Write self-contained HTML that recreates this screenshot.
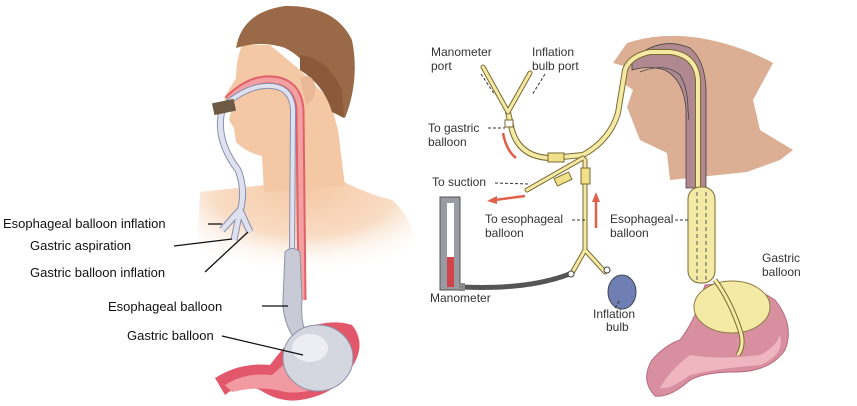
<!DOCTYPE html>
<html><head><meta charset="utf-8"><style>
html,body{margin:0;padding:0;background:#fff;}
svg{display:block;font-family:"Liberation Sans",sans-serif;}
</style></head><body>
<svg width="857" height="406" viewBox="0 0 857 406" xmlns="http://www.w3.org/2000/svg">
<defs>
<radialGradient id="body" cx="0.5" cy="0.1" r="0.75">
<stop offset="0" stop-color="#f6c9a6"/><stop offset="0.55" stop-color="#f9dcc4"/><stop offset="1" stop-color="#fff" stop-opacity="0"/>
</radialGradient>
</defs>
<!-- LEFT shoulders -->
<path d="M200,192 L265,185 L340,180 Q370,195 392,200 Q410,215 415,240 L410,290 L195,290 Z" fill="url(#body)"/>
<!-- neck/face -->
<path d="M242,45 Q236,60 236,78 L224,98 L232,108 L229,120 L234,128 L236,142 Q245,152 262,156 L264,192 L345,186 L338,130 L330,100 L300,70 L270,45 Z" fill="#f4c8a4"/>
<!-- hair -->
<path d="M236,48 Q242,12 285,6 Q335,5 352,40 Q360,80 345,118 L335,112 Q332,90 318,78 Q300,55 285,48 Q262,40 236,48 Z" fill="#9a6a48"/>
<path d="M300,55 Q328,58 342,90 L344,118 L332,112 Q324,85 300,70 Z" fill="#8a5a3a"/>
<!-- ear -->
<path d="M300,78 Q312,72 315,85 Q316,100 306,105 Z" fill="#eab896"/>
<!-- red lining -->
<path d="M228,100 Q250,78 272,80 Q298,82 300,110 L302,300" fill="none" stroke="#e0606a" stroke-width="9"/>
<path d="M228,100 Q250,78 272,80 Q298,82 300,110 L302,300" fill="none" stroke="#f2a0a0" stroke-width="5"/>
<!-- tube internal -->
<path d="M226,104 Q250,84 272,86 Q292,88 293,110 L292,255" fill="none" stroke="#8890b0" stroke-width="6"/>
<path d="M226,104 Q250,84 272,86 Q292,88 293,110 L292,255" fill="none" stroke="#dfe2ee" stroke-width="4"/>
<!-- stomach -->
<path d="M215,378 Q240,362 270,365 Q285,345 300,330 Q330,318 352,325 Q368,345 350,370 Q335,395 300,400 Q280,403 260,390 Q240,382 225,395 Z" fill="#e2576a"/>
<path d="M225,385 Q245,372 272,375 Q290,360 305,340 Q330,330 345,338 Q355,360 335,380 Q310,395 285,392 Q260,385 232,392 Z" fill="#f29aa2"/>
<!-- esophageal balloon -->
<path d="M285,252 Q292,245 300,252 L302,300 Q300,330 310,335 L295,340 Q282,320 283,300 Z" fill="#c8cad6" stroke="#8e92a8"/>
<ellipse cx="318" cy="358" rx="35" ry="33" fill="#d4d6e0" stroke="#8e92a8"/>
<ellipse cx="310" cy="348" rx="18" ry="14" fill="#eceef4"/>
<!-- external tube -->
<path d="M222,110 Q215,140 238,170 Q246,190 240,212" fill="none" stroke="#8890b0" stroke-width="7"/>
<path d="M222,110 Q215,140 238,170 Q246,190 240,212" fill="none" stroke="#dfe2ee" stroke-width="5"/>
<path d="M240,210 L222,230 M240,210 L234,240 M240,210 L250,232" stroke="#8890b0" stroke-width="7" fill="none"/>
<path d="M240,210 L222,230 M240,210 L234,240 M240,210 L250,232" stroke="#dfe2ee" stroke-width="5" fill="none"/>
<rect x="213" y="101" width="22" height="12" fill="#6e5a44" transform="rotate(-12 224 107)"/>
<!-- left labels -->
<g font-size="13" fill="#111">
<text x="3" y="228">Esophageal balloon inflation</text>
<text x="30" y="250">Gastric aspiration</text>
<text x="30" y="277">Gastric balloon inflation</text>
<text x="108" y="311">Esophageal balloon</text>
<text x="127" y="340">Gastric balloon</text>
</g>
<g stroke="#111" stroke-width="1.3">
<line x1="208" y1="224" x2="222" y2="224"/>
<line x1="174" y1="246" x2="232" y2="239"/>
<line x1="205" y1="272" x2="248" y2="232"/>
<line x1="262" y1="306" x2="288" y2="306"/>
<line x1="222" y1="336" x2="303" y2="355"/>
</g>

<!-- RIGHT head -->
<path d="M627,43 Q660,32 700,38 Q740,45 773,63 L753,100 L760,130 L793,150 L780,160 L747,172 L670,180 L667,153 L640,140 L627,107 L633,90 L623,83 L627,67 L613,63 Z" fill="#dcae94"/>
<path d="M632,60 Q660,35 690,48 Q705,60 706,90 L706,188 L686,188 L686,110 Q684,80 665,70 Q648,65 632,70 Z" fill="#b08890" stroke="#444" stroke-width="0.8"/>
<path d="M640,72 Q665,62 680,75 Q688,88 688,110 L689,120" fill="none" stroke="#444" stroke-width="0.8"/>
<!-- stomach -->
<path d="M705,285 Q745,280 775,300 Q795,325 785,350 Q770,372 735,372 Q705,372 690,380 Q670,398 655,396 Q640,380 652,360 Q665,345 680,340 Q695,320 700,300 Z" fill="#d890a0" stroke="#b86a80"/>
<path d="M690,355 Q720,360 760,355 Q775,348 780,335 Q785,355 760,365 Q720,368 690,375 Q670,390 660,388 Q670,370 690,355 Z" fill="#f0b6c0"/>
<ellipse cx="732" cy="307" rx="38" ry="26" fill="#f5eaa5" stroke="#8a7a40"/>
<!-- yellow tubes -->
<g fill="none" stroke-linecap="round">
<path d="M698,190 L698,80 Q696,55 670,52 L650,52 Q630,56 625,70 L618,113 Q610,140 583,155 L552,158 Q520,158 512,130 L508,112" stroke="#7a6a30" stroke-width="6"/>
<path d="M698,190 L698,80 Q696,55 670,52 L650,52 Q630,56 625,70 L618,113 Q610,140 583,155 L552,158 Q520,158 512,130 L508,112" stroke="#f5eaa5" stroke-width="4"/>
<path d="M508,112 L483,67 M508,112 L530,73" stroke="#7a6a30" stroke-width="5"/>
<path d="M508,112 L483,67 M508,112 L530,73" stroke="#f5eaa5" stroke-width="3"/>
<path d="M583,158 L527,190 M585,160 L585,250 L572,273 M585,250 L605,272" stroke="#7a6a30" stroke-width="5"/>
<path d="M583,158 L527,190 M585,160 L585,250 L572,273 M585,250 L605,272" stroke="#f5eaa5" stroke-width="3"/>
<path d="M463,287 Q530,290 572,273" stroke="#555" stroke-width="5" stroke-dasharray="2 1"/>
</g>
<rect x="505" y="120" width="8" height="7" fill="#fff" stroke="#7a6a30"/>
<rect x="548" y="153" width="16" height="9" fill="#f0e08a" stroke="#7a6a30"/>
<rect x="555" y="175" width="16" height="8" fill="#f0e08a" stroke="#7a6a30" transform="rotate(-25 563 179)"/>
<rect x="581" y="168" width="9" height="16" fill="#f0e08a" stroke="#7a6a30"/>
<rect x="688" y="187" width="27" height="96" rx="12" fill="#f5eaa5" stroke="#7a6a30"/>
<path d="M697,192 L697,282 M706,192 L706,282" stroke="#555" stroke-dasharray="4 3"/>
<path d="M715,280 Q730,300 740,330 Q745,345 738,355" fill="none" stroke="#7a6a30" stroke-width="5"/>
<path d="M715,280 Q730,300 740,330 Q745,345 738,355" fill="none" stroke="#f5eaa5" stroke-width="3"/>
<!-- bulb -->
<ellipse cx="622" cy="292" rx="14" ry="17" fill="#6f7fb4" stroke="#445"/>
<circle cx="607" cy="270" r="3" fill="#fff" stroke="#444"/>
<circle cx="571" cy="274" r="3" fill="#fff" stroke="#444"/>
<!-- manometer -->
<rect x="440" y="197" width="20" height="93" fill="#9a9aa2" stroke="#555"/>
<rect x="447" y="203" width="7" height="55" fill="#fff"/>
<rect x="447" y="257" width="7" height="30" fill="#d0444a"/>
<rect x="459" y="283" width="6" height="8" fill="#888"/>
<!-- red arrows -->
<g stroke="#e0604a" stroke-width="2.5" fill="#e0604a">
<path d="M503,133 Q506,150 516,158" fill="none"/>
<path d="M525,196 L495,200" />
<polygon points="487,201 497,196 497,204" stroke="none"/>
<path d="M596,228 L596,200"/>
<polygon points="596,192 592,202 600,202" stroke="none"/>
</g>
<!-- right labels -->
<g font-size="12" fill="#333">
<text x="431" y="56">Manometer</text><text x="431" y="70">port</text>
<text x="532" y="56">Inflation</text><text x="532" y="70">bulb port</text>
<text x="428" y="132">To gastric</text><text x="428" y="146">balloon</text>
<text x="432" y="186">To suction</text>
<text x="485" y="223">To esophageal</text><text x="485" y="237">balloon</text>
<text x="610" y="223">Esophageal</text><text x="610" y="237">balloon</text>
<text x="430" y="302">Manometer</text>
<text x="593" y="318">Inflation</text><text x="606" y="331">bulb</text>
<text x="762" y="262">Gastric</text><text x="762" y="276">balloon</text>
</g>
<g stroke="#333" stroke-dasharray="3 2" fill="none">
<line x1="481" y1="74" x2="495" y2="95"/>
<line x1="545" y1="74" x2="532" y2="95"/>
<line x1="488" y1="128" x2="505" y2="128"/>
<line x1="495" y1="183" x2="530" y2="184"/>
<line x1="572" y1="220" x2="585" y2="220"/>
<line x1="675" y1="220" x2="689" y2="220"/>
<line x1="615" y1="308" x2="620" y2="300"/>
</g>
</svg>
</body></html>
